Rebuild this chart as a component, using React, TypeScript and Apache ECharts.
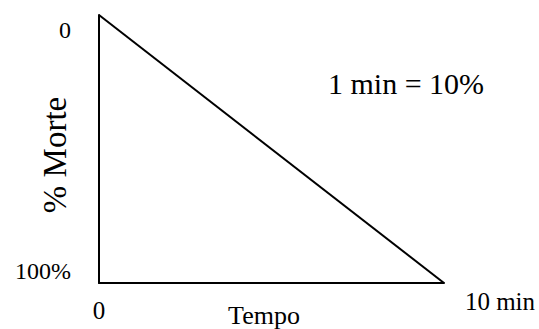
import React, { useEffect, useRef } from "react";
import * as echarts from "echarts";

const timeMinutes = [0, 10];
const deathPercent = [0, 100];
const xTickLabels = ["0", "10 min"];
const yTickLabels = ["0", "100%"];
const xAxisName = "Tempo";
const yAxisName = "% Morte";
const annotation = "1 min = 10%";

const FONT = "Liberation Serif";

export default function App() {
  const ref = useRef<HTMLDivElement>(null);
  useEffect(() => {
    if (!ref.current) return;
    const chart = echarts.init(ref.current, null, { renderer: "svg" });
    chart.setOption({
      animation: false,
      backgroundColor: "#ffffff",
      grid: { left: 99, right: 95, top: 15, bottom: 46, containLabel: false, outerBoundsMode: "none" },
      xAxis: {
        type: "value",
        position: "bottom",
        min: 0,
        max: 10,
        interval: 10,
        name: xAxisName,
        nameLocation: "middle",
        nameGap: 19,
        nameMoveOverlap: false,
        nameTextStyle: { fontFamily: FONT, fontSize: 26, color: "#000", padding: [0, 15, 0, 0] },
        axisLine: { show: true, onZero: false, lineStyle: { color: "#000", width: 2 } },
        axisTick: { show: false },
        splitLine: { show: false },
        axisLabel: {
          margin: 27,
          verticalAlign: "middle",
          fontFamily: FONT,
          color: "#000",
          fontSize: 25,
          hideOverlap: false,
          overflow: "none",
          formatter: (v: number) =>
            v === timeMinutes[0] ? `{a|${xTickLabels[0]}}` : `{sp|}{r|${xTickLabels[1]}}`,
          rich: {
            a: { fontFamily: FONT, fontSize: 25, color: "#000" },
            sp: { width: 112, fontSize: 25 },
            r: { fontFamily: FONT, fontSize: 25, color: "#000", width: 74, align: "left", padding: [0, 0, 18, 0] },
          },
        },
      },
      yAxis: {
        type: "value",
        inverse: true,
        min: 0,
        max: 100,
        interval: 100,
        name: yAxisName,
        nameLocation: "middle",
        nameRotate: 90,
        nameGap: 28,
        nameMoveOverlap: false,
        nameTextStyle: { fontFamily: FONT, fontSize: 33, color: "#000", padding: [0, 12, 0, 0] },
        axisLine: { show: true, onZero: false, lineStyle: { color: "#000", width: 2 } },
        axisTick: { show: false },
        splitLine: { show: false },
        axisLabel: {
          margin: 28,
          fontFamily: FONT,
          color: "#000",
          fontSize: 24,
          formatter: (v: number) =>
            v === deathPercent[0] ? `{t|${yTickLabels[0]}}` : `{b|${yTickLabels[1]}}`,
          rich: {
            t: { fontFamily: FONT, fontSize: 24, color: "#000", padding: [30, 0, 0, 0] },
            b: { fontFamily: FONT, fontSize: 24, color: "#000", padding: [0, 0, 24, 0] },
          },
        },
      },
      series: [
        {
          type: "line",
          data: timeMinutes.map((t, i) => [t, deathPercent[i]]),
          symbol: "none",
          lineStyle: { color: "#000", width: 2 },
        },
      ],
      graphic: [
        {
          type: "text",
          left: 328,
          top: 68,
          style: { text: annotation, fontFamily: FONT, fontSize: 30, fill: "#000" },
        },
      ],
    });
    return () => chart.dispose();
  }, []);
  return (
    <div
      ref={ref}
      style={{ position: "absolute", left: 0, top: 0, width: 539, height: 329 }}
    />
  );
}
